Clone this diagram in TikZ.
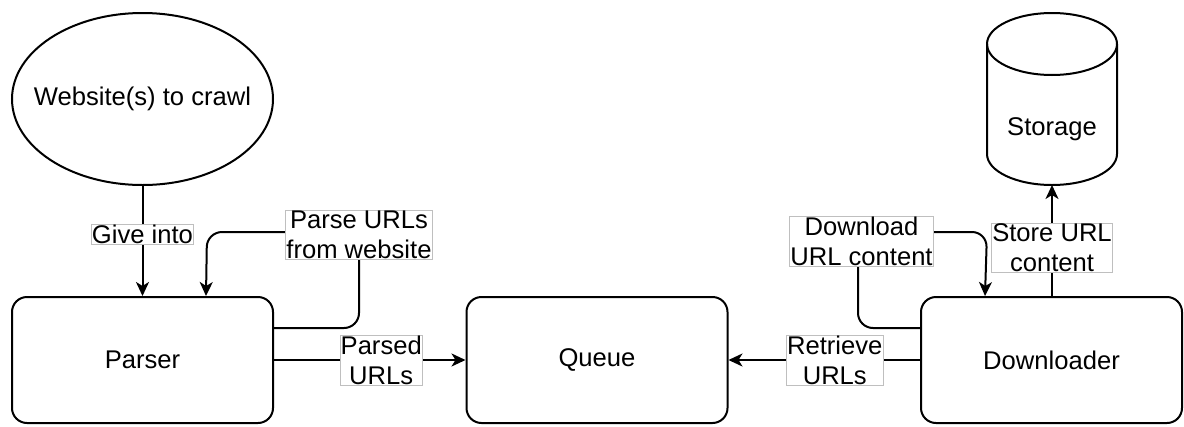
\documentclass[tikz,border=0pt]{standalone}
\usepackage{fontspec}
\setmainfont{Liberation Sans}
\usetikzlibrary{arrows.meta,shapes.geometric,calc}
\begin{document}
\begin{tikzpicture}[x=1pt,y=-1pt,
  every node/.style={font=\fontsize{25.6pt}{30pt}\selectfont},
  box/.style={draw,line width=2pt,rounded corners=15pt,minimum width=261pt,minimum height=126pt},
  lbl/.style={fill=white,draw=gray!50,line width=0.9pt,inner sep=0.6pt,align=center},
  arr/.style={line width=2pt,-{Stealth[length=14pt,width=13pt,inset=4pt]}}]
\useasboundingbox (0,0) rectangle (1184,426);
% nodes
\node[draw,ellipse,line width=2pt,minimum width=261pt,minimum height=172pt,inner sep=0pt] (web) at (142.5,99) {\makebox[0pt]{Website(s) to crawl}};
\node[box] (parser) at (142.5,360) {Parser};
\node[box] (queue) at (597,360) {Queue};
\node[box] (down) at (1051.5,360) {Downloader};
% storage cylinder
\draw[line width=2pt,fill=white] (987,44) -- (987,154) arc[start angle=180,end angle=0,x radius=65,y radius=31] -- (1117,44);
\draw[line width=2pt] (1052,44) ellipse [x radius=65, y radius=31];
\node (storage) at (1052,129) {Storage};
\coordinate (storbot) at (1052,185);
% waypoints
\coordinate (pout) at ($(parser.north east)!0.25!(parser.south east)$);
\coordinate (dout) at ($(down.north west)!0.25!(down.south west)$);
\coordinate (pin) at ($(parser.north west)+(195,0)$);
\coordinate (din) at ($(down.north west)+(65,0)$);
% connectors
\draw[arr] (web.south) -- node[lbl,pos=0.44]{Give into} (web.south |- parser.north);
\draw[arr,rounded corners=15pt] (pout) -- (359,328) -- (359,232) -- (207,232) -- (pin);
\node[lbl] (lparse) at (359,235) {Parse URLs\\from website};
\draw[arr] (parser.east) -- node[lbl,pos=0.56]{Parsed\\URLs} (queue.west);
\draw[arr] (down.west) -- node[lbl,pos=0.445]{Retrieve\\URLs} (queue.east);
\draw[arr,rounded corners=15pt] (dout) -- (858,328) -- (858,232) -- (987,232) -- (din);
\node[lbl] (ldown) at (861.5,241) {Download\\URL content};
\draw[arr] (1052,297) -- node[lbl,pos=0.44]{Store URL\\content} (storbot);
\end{tikzpicture}
\end{document}
